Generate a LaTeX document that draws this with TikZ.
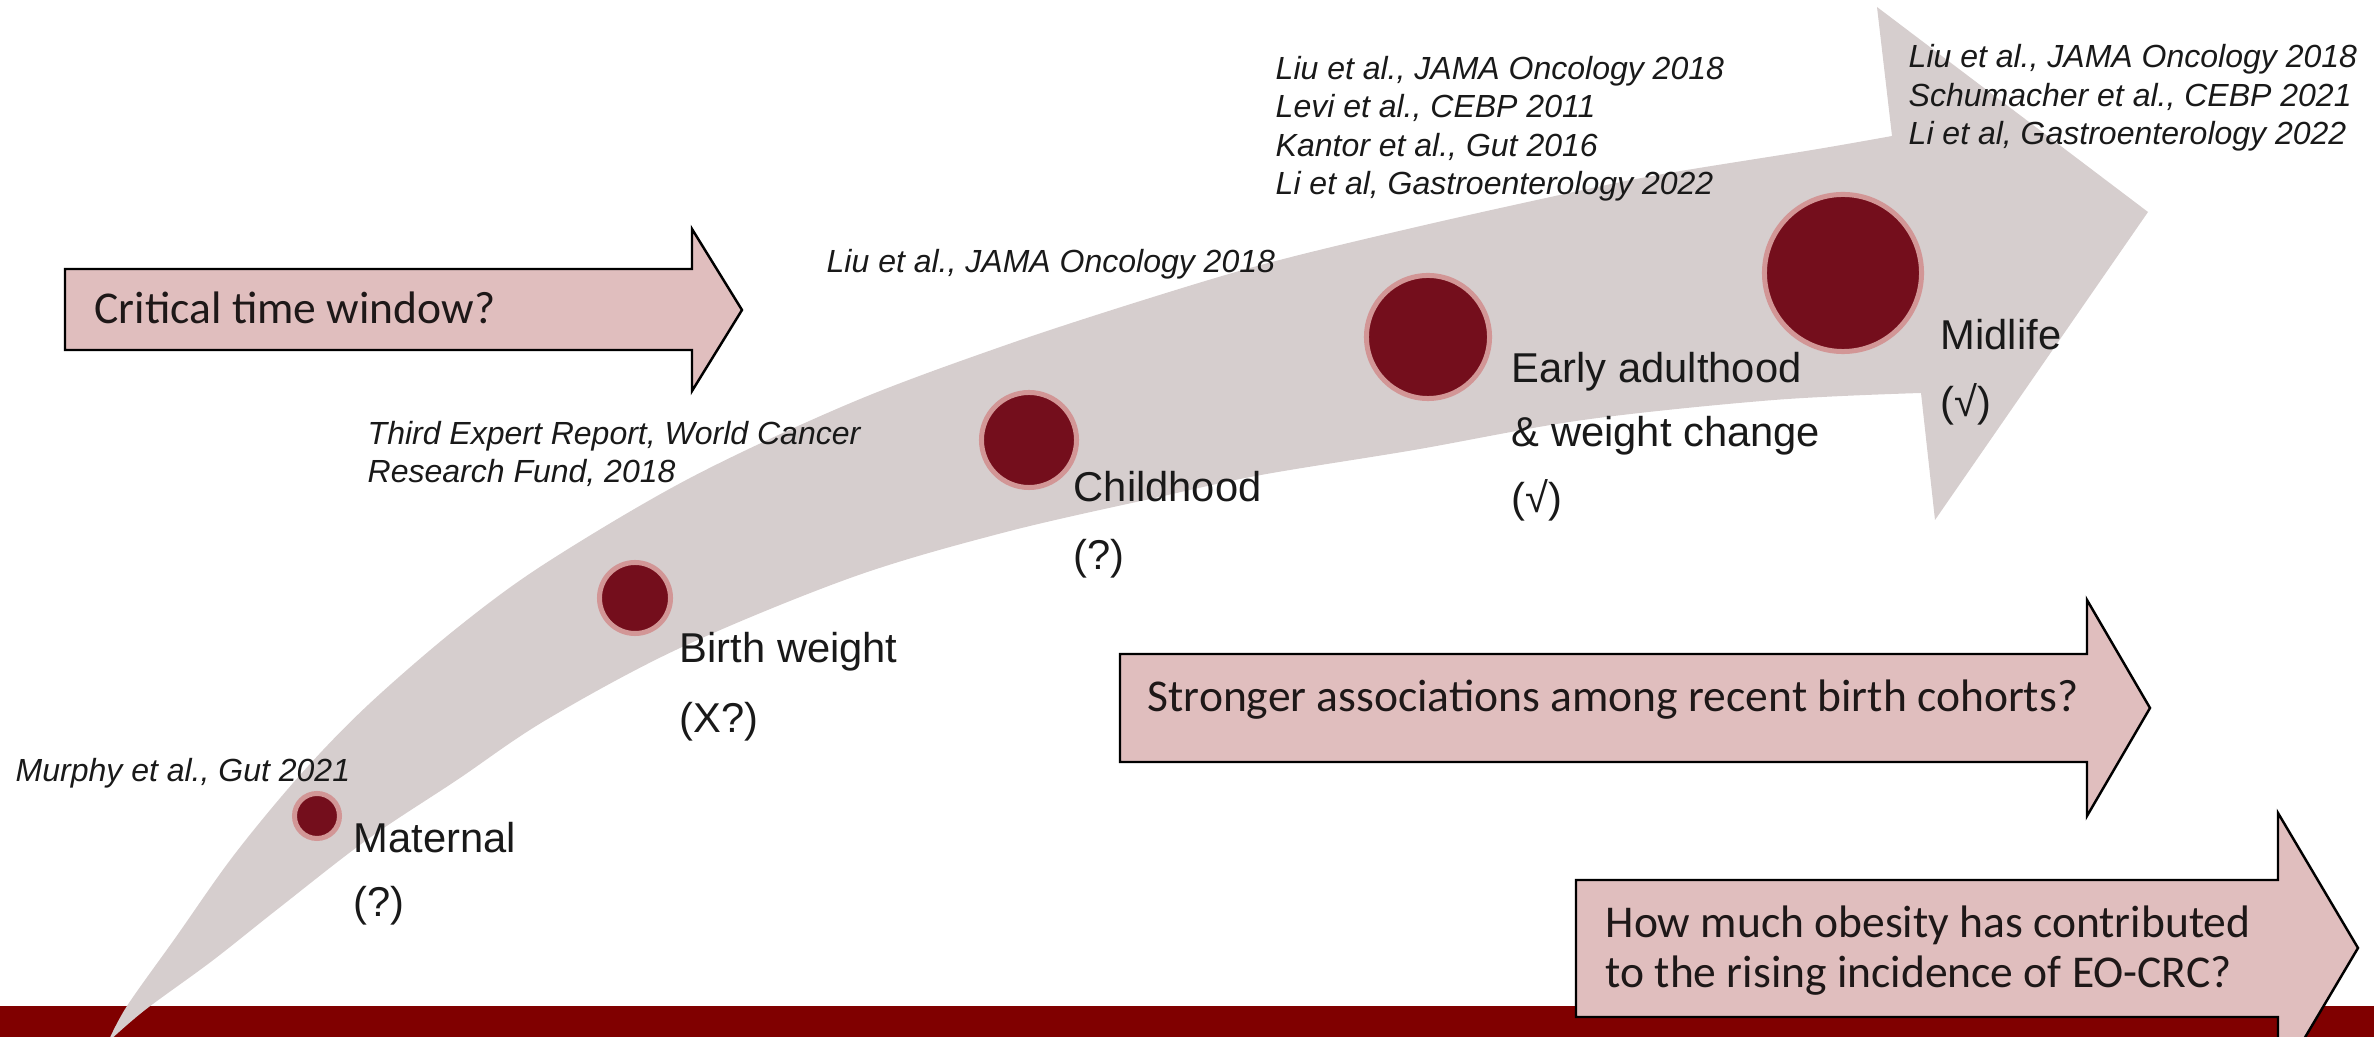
\documentclass[tikz,border=0pt]{standalone}
\usepackage{fontspec}
\setmainfont{Liberation Sans}
\newfontfamily\boxfont{Carlito}
\definecolor{arrowgray}{RGB}{214,206,206}
\definecolor{dotfill}{RGB}{116,14,28}
\definecolor{dotring}{RGB}{210,150,150}
\definecolor{boxpink}{RGB}{224,190,190}
\definecolor{bandred}{RGB}{128,0,0}
\definecolor{boxtext}{RGB}{30,24,24}
\tikzset{
  lbl/.style={anchor=base west, inner sep=0pt, font=\fontsize{11.86pt}{14pt}\selectfont, text=black!90},
  cite/.style={anchor=base west, inner sep=0pt, font=\fontsize{9.1pt}{11pt}\selectfont\itshape, text=black!90},
  boxtxt/.style={anchor=base west, inner sep=0pt, font=\boxfont\fontsize{12.95pt}{15pt}\selectfont, text=boxtext},
  dotnode/.style={circle, inner sep=0pt, fill=dotfill, draw=dotring, line width=0.05cm},
  blockarrow/.style={fill=boxpink, draw=black, line width=0.7pt, line join=miter}
}
\begin{document}
\begin{tikzpicture}[x=0.01cm, y=-0.01cm]
\useasboundingbox (0,0) rectangle (2374,1037);
\clip (0,0) rectangle (2374,1037);
% bottom band
\fill[bandred] (0,1006) rectangle (2374,1040);
% big curved arrow
\fill[arrowgray] plot[smooth, tension=0.55] coordinates {(108,1042) (127,1006) (176,937) (234,855) (301,774) (368,705) (457,628) (546,563) (690,478) (853,402) (1006,345) (1150,298) (1272,262) (1425,225) (1583,190) (1669,173) (1812,150) (1892,136)}
  -- (1877,7) -- (2148,212) -- (1935,520) -- (1921,393)
  -- plot[smooth, tension=0.55] coordinates {(1921,393) (1774,400) (1583,420) (1414,450) (1261,475) (1159,497) (1006,532) (853,577) (680,648) (546,720) (457,780) (368,839) (279,908) (212,961) (145,1010) (108,1042)}
  -- cycle;
% dots
\node[dotnode, minimum size=0.45cm] (dmat) at (317,816) {};
\node[dotnode, minimum size=0.71cm] (dbw) at (635,598) {};
\node[dotnode, minimum size=0.95cm] (dch) at (1029,440) {};
\node[dotnode, minimum size=1.23cm] (dea) at (1428,337) {};
\node[dotnode, minimum size=1.57cm] (dml) at (1843,273) {};
% labels
\node[lbl] (mat1) at (353,853) {Maternal};
\node[lbl] (mat2) at (353,917) {(?)};
\node[lbl] (bw1) at (679,663) {Birth weight};
\node[lbl] (bw2) at (679,733) {(X?)};
\node[lbl] (ch1) at (1073,502) {Childhood};
\node[lbl] (ch2) at (1073,570) {(?)};
\node[lbl] (ea1) at (1511,383) {Early adulthood};
\node[lbl] (ea2) at (1511,447) {\& weight change};
\node[lbl] (ea3) at (1511,513) {(√)};
\node[lbl] (ml1) at (1940,350) {Midlife};
\node[lbl] (ml2) at (1940,417) {(√)};
% citations
\node[cite] (r1) at (15,782) {Murphy et al., Gut 2021};
\node[cite] (r2a) at (367,445) {Third Expert Report, World Cancer};
\node[cite] (r2b) at (367,483) {Research Fund, 2018};
\node[cite] (r3) at (826,273) {Liu et al., JAMA Oncology 2018};
\node[cite] (r4a) at (1275,80) {Liu et al., JAMA Oncology 2018};
\node[cite] (r4b) at (1275,118) {Levi et al., CEBP 2011};
\node[cite] (r4c) at (1275,157) {Kantor et al., Gut 2016};
\node[cite] (r4d) at (1275,195) {Li et al, Gastroenterology 2022};
\node[cite] (r5a) at (1908,68) {Liu et al., JAMA Oncology 2018};
\node[cite] (r5b) at (1908,107) {Schumacher et al., CEBP 2021};
\node[cite] (r5c) at (1908,145) {Li et al, Gastroenterology 2022};
% block arrows
\draw[blockarrow] (65,269) -- (692,269) -- (692,229) -- (742,310) -- (692,391) -- (692,350) -- (65,350) -- cycle;
\node[boxtxt] (t1) at (94,324) {Critical time window?};
\draw[blockarrow] (1120,654) -- (2087,654) -- (2087,600) -- (2150,708) -- (2087,816) -- (2087,762) -- (1120,762) -- cycle;
\node[boxtxt] (t2) at (1147,712) {Stronger associations among recent birth cohorts?};
\draw[blockarrow] (1576,880) -- (2278,880) -- (2278,813) -- (2358,948) -- (2278,1083) -- (2278,1017) -- (1576,1017) -- cycle;
\node[boxtxt] (t3a) at (1605,938) {How much obesity has contributed};
\node[boxtxt] (t3b) at (1605,988) {to the rising incidence of EO-CRC?};
\end{tikzpicture}
\end{document}
